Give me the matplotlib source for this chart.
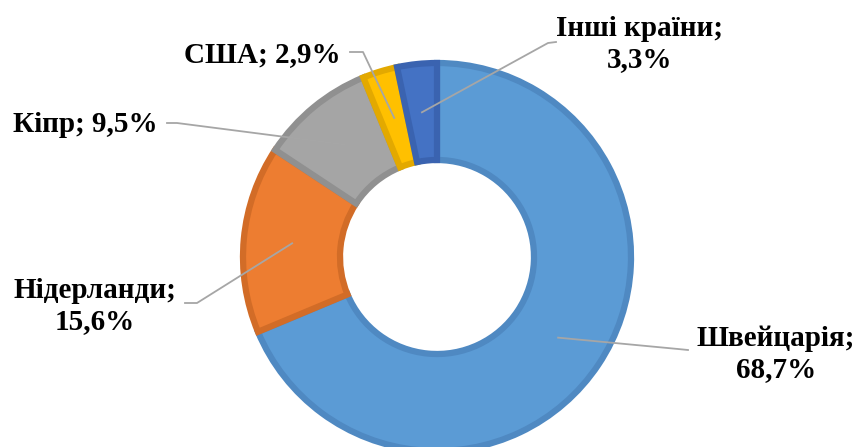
import matplotlib.pyplot as plt
import numpy as np

countries = ['Швейцарія', 'Нідерланди', 'Кіпр', 'США', 'Інші країни']
shares = [68.7, 15.6, 9.5, 2.9, 3.3]
fills = ['#5B9BD5', '#ED7D31', '#A5A5A5', '#FFC000', '#4472C4']
borders = ['#4F89C2', '#D26C27', '#909090', '#E3A900', '#3A63B0']
labels = ['Швейцарія;\n68,7%', 'Нідерланди;\n15,6%', 'Кіпр; 9,5%', 'США; 2,9%', 'Інші країни;\n3,3%']

# pixel layout of the reference
W, H = 858, 447
cx, cy, R = 437, 257, 194
def px(x, y):
    return (x - cx) / R, (cy - y) / R

# label centre, elbow, end of leader (pixels)
lab_pos = [(776, 354), (95, 306), (85, 125), (262, 55), (640, 44)]
elbows = [(678, 349), (197, 303), (177, 123), (363, 52), (548, 43)]
ends = [(688, 350), (185, 303), (167, 123), (350, 52), (556, 42)]

fig = plt.figure(figsize=(W / 100, H / 100), dpi=100)
ax = fig.add_axes([0, 0, 1, 1])

width = 0.5
wedges, _ = ax.pie(shares, colors=fills, startangle=90, counterclock=False,
                   radius=1.0, wedgeprops=dict(width=width, linewidth=4.5, joinstyle='miter'))
for w, ec in zip(wedges, borders):
    w.set_edgecolor(ec)

ax.set_xlim(-cx / R, (W - cx) / R)
ax.set_ylim(-(H - cy) / R, cy / R)
ax.axis('off')

rmid = 1 - width / 2
for w, lp, el, en, txt in zip(wedges, lab_pos, elbows, ends, labels):
    ang = np.deg2rad((w.theta1 + w.theta2) / 2)
    sx, sy = rmid * np.cos(ang), rmid * np.sin(ang)
    ex, ey = px(*el)
    fx, fy = px(*en)
    ax.plot([sx, ex, fx], [sy, ey, fy], color='#A6A6A6', lw=1.3, zorder=3)
    tx, ty = px(*lp)
    ax.text(tx, ty, txt, ha='center', va='center', multialignment='center',
            fontsize=21, fontweight='bold', family='Liberation Serif',
            linespacing=1.15)

fig.savefig('out.png', dpi=100)
